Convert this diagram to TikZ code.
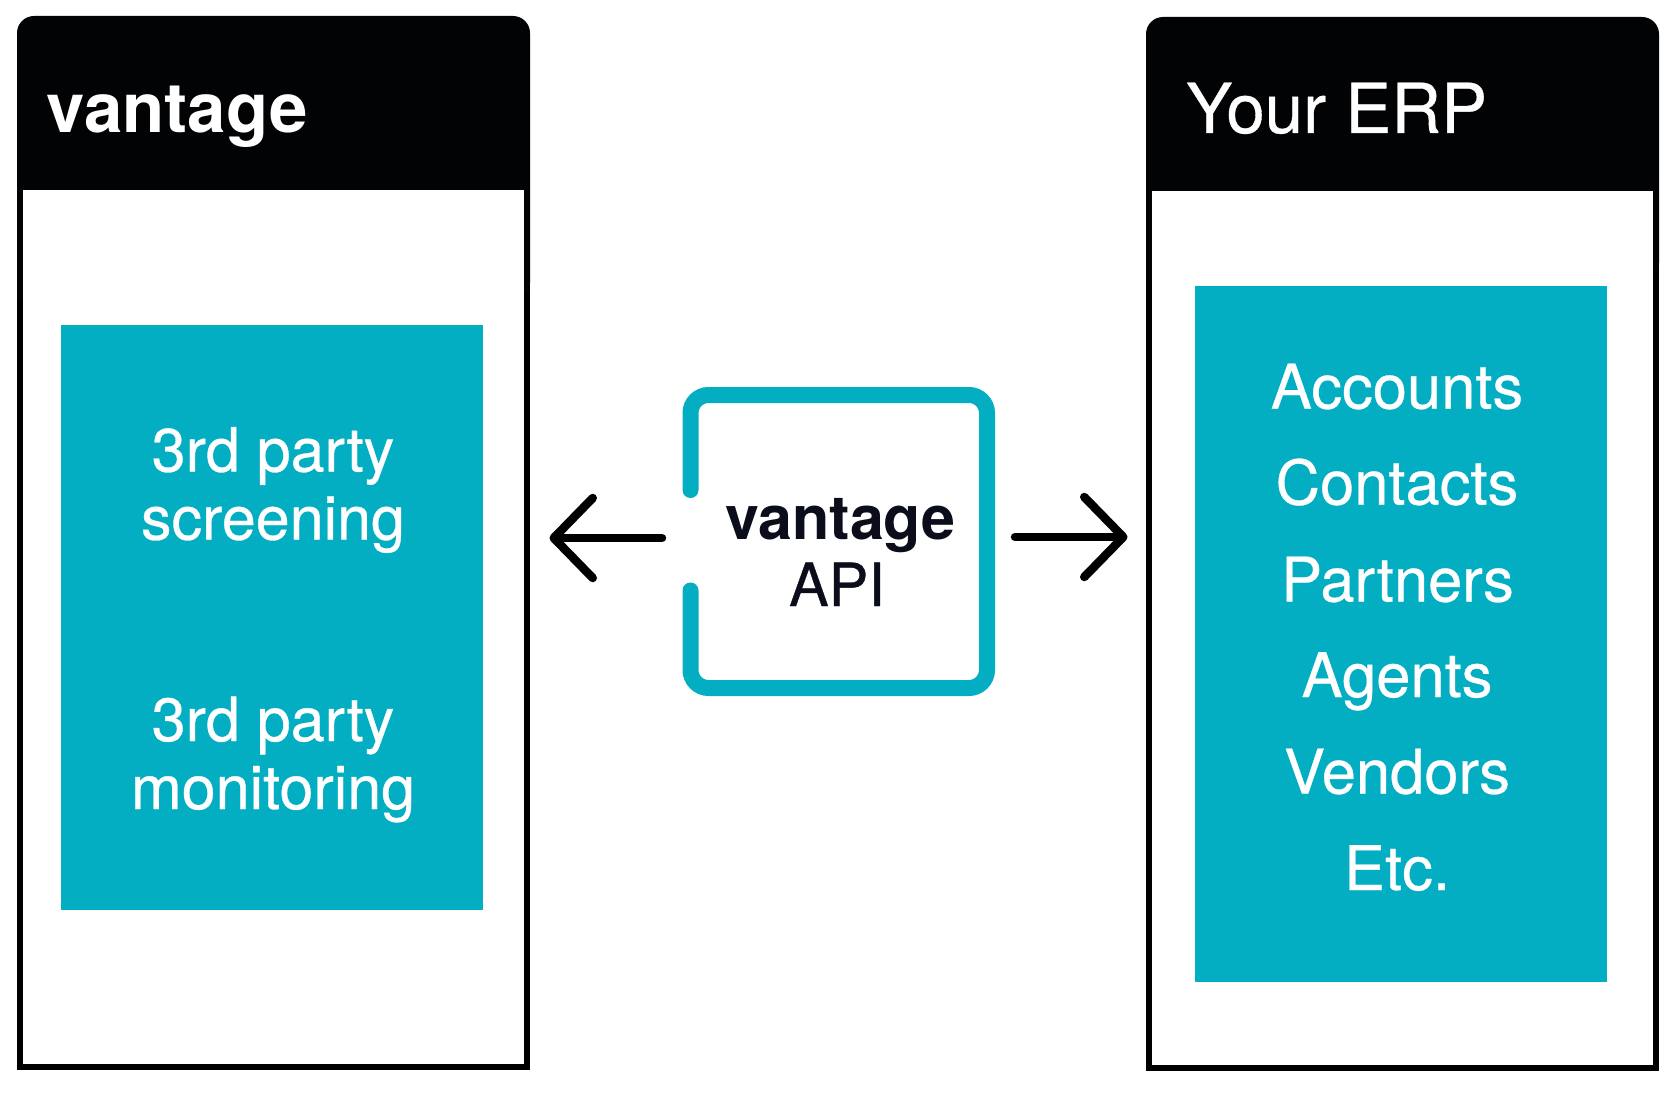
\documentclass[tikz,border=0pt]{standalone}
\usepackage{fontspec}
\setmainfont{TeX Gyre Heros}
\newfontfamily\medfont[FakeBold=0.5]{TeX Gyre Heros}
\usetikzlibrary{arrows.meta}
\definecolor{tealbox}{HTML}{03ADC2}
\definecolor{headblack}{HTML}{020305}
\definecolor{apiink}{HTML}{0B0D1A}
\tikzset{
  panel/.style={draw=black,line width=6pt,fill=white},
  header/.style={fill=headblack},
  tealfill/.style={fill=tealbox},
  headtext/.style={text=white,anchor=base west,inner sep=0pt,font=\medfont\fontsize{69}{72}\selectfont},
  boxtext/.style={text=white,align=center,inner sep=0pt,font=\medfont\fontsize{61}{68}\selectfont},
  listtext/.style={text=white,anchor=base,inner sep=0pt,font=\medfont\fontsize{61.5}{68}\selectfont},
  apibold/.style={text=apiink,anchor=base,inner sep=0pt,font=\fontsize{61}{64}\selectfont\bfseries},
  apireg/.style={text=apiink,anchor=base,inner sep=0pt,font=\medfont\fontsize{59.5}{64}\selectfont},
  apiframe/.style={draw=tealbox,line width=16pt,line cap=round,rounded corners=18pt},
  flow/.style={draw=black,line width=8.5pt,line cap=round,line join=round,
    -{Straight Barb[length=39pt,width=80pt,line width=8.5pt,round]}}
}
\begin{document}
\begin{tikzpicture}[x=1pt,y=-1pt]
\useasboundingbox[fill=white] (0,0) rectangle (1667,1094);
% left panel
\draw[panel] (20,100) rectangle (527,1067);
\fill[header,rounded corners=17pt] (17,300) -- (17,16) -- (530,16) -- (530,300) [sharp corners] -- cycle;
\fill[white] (23,190) rectangle (524,310);
\node[headtext,font=\fontsize{69}{72}\selectfont\bfseries] (lefttitle) at (46.5,132.5) {vantage};
\fill[tealfill] (61,325) rectangle (482.5,910);
\node[boxtext] (screening) at (273,490) {3rd party\\screening};
\node[boxtext] (monitoring) at (273,759.5) {3rd party\\monitoring};
% right panel
\draw[panel] (1149,100) rectangle (1656,1068);
\fill[header,rounded corners=17pt] (1146,280) -- (1146,17) -- (1659,17) -- (1659,280) [sharp corners] -- cycle;
\fill[white] (1152,191) rectangle (1653,286);
\node[headtext] (righttitle) at (1186,133) {Your ERP};
\fill[tealfill] (1195,286) rectangle (1607,982);
\node[listtext] (accounts) at (1397,408.5) {Accounts};
\node[listtext] (contacts) at (1397,504.5) {Contacts};
\node[listtext] (partners) at (1397.5,601.5) {Partners};
\node[listtext] (agents) at (1397,697) {Agents};
\node[listtext] (vendors) at (1397,793.5) {Vendors};
\node[listtext] (etc) at (1397,890) {Etc.};
% API frame
\draw[apiframe] (690.5,490) -- (690.5,395) -- (987,395) -- (987,688) -- (690.5,688) -- (690.5,590.5);
\node[apibold] (apiname) at (840.5,539) {vantage};
\node[apireg] (apilabel) at (837,606) {API};
% arrows
\coordinate (leftTail) at (662,538);
\coordinate (leftTip) at (549.5,538);
\coordinate (rightTail) at (1015,537);
\coordinate (rightTip) at (1127.5,537);
\draw[flow] (leftTail) -- (leftTip);
\draw[flow] (rightTail) -- (rightTip);
\end{tikzpicture}
\end{document}
